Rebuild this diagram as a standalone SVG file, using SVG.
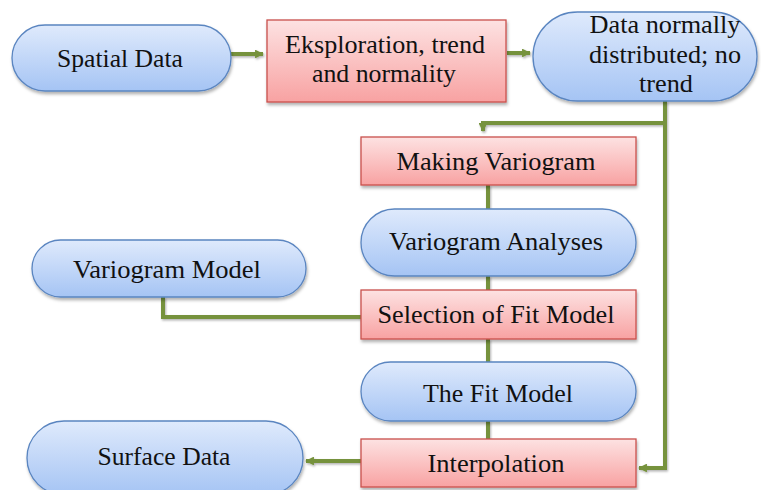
<svg xmlns="http://www.w3.org/2000/svg" width="761" height="490" viewBox="0 0 761 490">
<defs>
<linearGradient id="gb" x1="0" y1="0" x2="0" y2="1"><stop offset="0" stop-color="#dfeafc"/><stop offset="1" stop-color="#a5c4f4"/></linearGradient>
<linearGradient id="gr" x1="0" y1="0" x2="0" y2="1"><stop offset="0" stop-color="#fde2e2"/><stop offset="1" stop-color="#f8a2a2"/></linearGradient>
<filter id="sh" x="-10%" y="-10%" width="125%" height="135%"><feDropShadow dx="1" dy="2.5" stdDeviation="1.8" flood-color="#000" flood-opacity="0.3"/></filter>
<filter id="shc" filterUnits="userSpaceOnUse" x="0" y="0" width="761" height="490"><feDropShadow dx="1" dy="1.5" stdDeviation="1" flood-color="#000" flood-opacity="0.3"/></filter>
<marker id="ah" viewBox="0 0 10 10" refX="9" refY="5" markerWidth="2.2" markerHeight="2.2" orient="auto" markerUnits="strokeWidth"><path d="M0,0 L10,5 L0,10 z" fill="#76923c"/></marker>
<style>
.pill{fill:url(#gb);stroke:#5a85c0;stroke-width:1.3;filter:url(#sh)}
.box{fill:url(#gr);stroke:#c9504c;stroke-width:1.3;filter:url(#sh)}
.t{font-family:"Liberation Serif","Times New Roman",serif;font-size:25px;fill:#111;}
.c{fill:none;stroke:#76923c;stroke-width:4;}
.a{marker-end:url(#ah)}
</style>
</defs>
<g id="connectors" filter="url(#shc)">
<path class="c a" d="M231,54 H263"/>
<path class="c a" d="M507,53 H530"/>
<path class="c a" d="M665,101 V123 H483 V131"/>
<path class="c a" d="M665,123 V468 H639"/>
<path class="c" d="M488,185 V209"/>
<path class="c" d="M488,276 V290"/>
<path class="c" d="M163,297 V317 H361"/>
<path class="c" d="M488,339 V362"/>
<path class="c" d="M488,421 V439"/>
<path class="c a" d="M361,461 H306"/>
</g>
<g id="spatial-data"><rect class="pill" x="12" y="25" width="219" height="66" rx="33"/><text class="t" x="120" y="67" text-anchor="middle" textLength="126" lengthAdjust="spacingAndGlyphs">Spatial Data</text></g>
<g id="eksploration"><rect class="box" x="267" y="20" width="239" height="82"/><text class="t" x="385" y="53" text-anchor="middle" textLength="200" lengthAdjust="spacingAndGlyphs">Eksploration, trend</text><text class="t" x="384" y="82" text-anchor="middle" textLength="144" lengthAdjust="spacingAndGlyphs">and normality</text></g>
<g id="data-normally"><rect class="pill" x="533" y="12" width="224" height="89" rx="44.5"/><text class="t" x="665" y="33" text-anchor="middle" textLength="151" lengthAdjust="spacingAndGlyphs">Data normally</text><text class="t" x="665" y="63" text-anchor="middle" textLength="152" lengthAdjust="spacingAndGlyphs">distributed; no</text><text class="t" x="666" y="92" text-anchor="middle" textLength="54" lengthAdjust="spacingAndGlyphs">trend</text></g>
<g id="making-variogram"><rect class="box" x="361" y="137" width="275" height="48"/><text class="t" x="496" y="170" text-anchor="middle" textLength="199" lengthAdjust="spacingAndGlyphs">Making Variogram</text></g>
<g id="variogram-analyses"><rect class="pill" x="361" y="209" width="275" height="67" rx="33.5"/><text class="t" x="496" y="250" text-anchor="middle" textLength="214" lengthAdjust="spacingAndGlyphs">Variogram Analyses</text></g>
<g id="variogram-model"><rect class="pill" x="32" y="240" width="274" height="57" rx="28.5"/><text class="t" x="167" y="278" text-anchor="middle" textLength="188" lengthAdjust="spacingAndGlyphs">Variogram Model</text></g>
<g id="selection-fit-model"><rect class="box" x="361" y="290" width="275" height="49"/><text class="t" x="496" y="323" text-anchor="middle" textLength="237" lengthAdjust="spacingAndGlyphs">Selection of Fit Model</text></g>
<g id="the-fit-model"><rect class="pill" x="361" y="362" width="275" height="59" rx="29.5"/><text class="t" x="498" y="402" text-anchor="middle" textLength="150" lengthAdjust="spacingAndGlyphs">The Fit Model</text></g>
<g id="surface-data"><rect class="pill" x="27" y="421" width="276" height="74" rx="37"/><text class="t" x="164" y="465" text-anchor="middle" textLength="133" lengthAdjust="spacingAndGlyphs">Surface Data</text></g>
<g id="interpolation"><rect class="box" x="361" y="439" width="275" height="48"/><text class="t" x="496" y="472" text-anchor="middle" textLength="137" lengthAdjust="spacingAndGlyphs">Interpolation</text></g>
</svg>
